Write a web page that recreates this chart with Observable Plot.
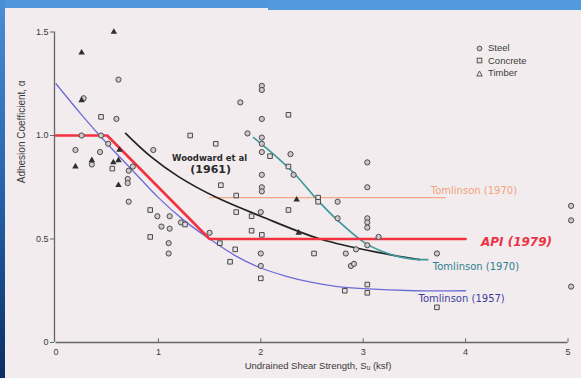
<!DOCTYPE html>
<html><head><meta charset="utf-8">
<script src="https://cdn.jsdelivr.net/npm/d3@7"></script>
<script src="https://cdn.jsdelivr.net/npm/@observablehq/plot@0.6"></script>
<style>
html,body{margin:0;padding:0;background:#f2ecee;}
#wrap{position:relative;width:581px;height:378px;overflow:hidden;background:#f2ecee;}
#chart svg{display:block;position:absolute;left:0;top:0;}
.bar{position:absolute;}
#topA{left:0;top:0;width:268px;height:8px;background:#4f96dc;}
#topB{left:268px;top:0;width:313px;height:10px;background:#5299de;}
#left{left:0;top:0;width:5px;height:378px;background:linear-gradient(#4a8fd8,#1f5aa0 60%,#0b2d63);}
#legend{position:absolute;left:476px;top:42px;font:9.5px "Liberation Sans",Arial,sans-serif;color:#3c3c3c;line-height:12.5px;}
#legend div{display:flex;align-items:center;}
#legend svg{margin-right:5px;}
</style></head><body>
<div id="wrap"><div id="chart"></div>
<div class="bar" id="topA"></div><div class="bar" id="topB"></div><div class="bar" id="left"></div>
<div id="legend"></div>
</div>
<script>
// ---- data ----
const steel = [
 [0.61,1.27],[0.27,1.18],[0.59,1.08],[0.25,1.00],[0.44,1.00],[0.51,0.96],[0.19,0.93],[0.43,0.92],
 [0.95,0.93],[0.35,0.86],[0.71,0.83],[0.75,0.85],[0.70,0.79],[0.70,0.77],[0.71,0.68],
 [0.99,0.61],[1.11,0.61],[1.03,0.56],[1.11,0.55],[1.22,0.58],[1.10,0.48],[1.10,0.43],[1.50,0.53],
 [2.00,0.63],[2.00,0.43],[2.00,0.37],[1.80,1.16],[2.01,1.08],[1.87,1.01],[2.01,0.99],[2.01,0.96],
 [2.01,0.92],[2.01,0.81],[2.01,0.75],[2.01,0.73],[2.01,1.24],[2.01,1.22],[2.29,0.91],[2.32,0.81],
 [2.75,0.68],[2.75,0.60],[3.04,0.87],[3.04,0.75],[3.04,0.60],[3.04,0.58],[3.04,0.555],[3.15,0.51],
 [2.83,0.43],[2.93,0.45],[3.04,0.47],[2.88,0.37],[2.91,0.38],[3.72,0.43],[5.03,0.66],[5.03,0.59],[5.03,0.27]
];
const concrete = [
 [0.44,1.09],[0.55,0.84],[0.92,0.64],[0.92,0.51],[1.26,0.57],[1.60,0.48],[1.76,0.63],[1.91,0.61],
 [1.91,0.54],[2.01,0.52],[1.75,0.45],[1.70,0.39],[2.00,0.31],[1.31,1.00],[1.56,0.96],[1.61,0.76],
 [1.76,0.71],[2.27,1.10],[2.09,0.90],[2.27,0.85],[2.56,0.70],[2.56,0.68],[2.27,0.64],[2.52,0.43],
 [3.72,0.17],[2.82,0.25],[3.04,0.28],[3.04,0.24]
];
const timber = [
 [0.565,1.50],[0.25,1.40],[0.25,1.17],[0.62,0.93],[0.19,0.85],[0.35,0.88],[0.56,0.87],
 [0.61,0.88],[0.61,0.76],[2.35,0.69],[2.37,0.53]
];
const api1979 = [[0,1.0],[0.5,1.0],[1.5,0.5],[4.0,0.5]];
const tomlinson1957 = [[0,1.25],[0.25,1.10],[0.5,0.96],[0.75,0.83],[1.0,0.70],[1.25,0.59],[1.5,0.50],
 [1.75,0.42],[2.0,0.36],[2.25,0.32],[2.5,0.29],[2.75,0.27],[3.0,0.26],[3.5,0.25],[4.0,0.25]];
const woodward1961 = [[0.68,1.01],[0.92,0.90],[1.2,0.80],[1.57,0.70],[2.0,0.61],[2.58,0.50],[3.2,0.43],[3.55,0.40]];
const tomlinson1970curve = [[1.93,0.99],[2.1,0.92],[2.32,0.82],[2.55,0.69],[2.75,0.59],[3.02,0.48],[3.27,0.425],[3.45,0.405],[3.63,0.40]];
const tomlinson1970flat = [[1.5,0.70],[3.8,0.70]];
const xTicks = [0,1,2,3,4,5];
const xTickLabels = ["0","1","2","3","4","5"];
const yTicks = [0,0.5,1.0,1.5];
const yTickLabels = ["0","0.5","1.0","1.5"];
const xTitle = "Undrained Shear Strength, S\u1D64 (ksf)";
const yTitle = "Adhesion Coefficient, \u03B1";
const legendNames = ["Steel","Concrete","Timber"];
const curveLabels = [
 {x:1.50, y:0.889, text:"Woodward et al", color:"#2a2a2a", size:8.5, weight:"bold", style:"normal", anchor:"middle"},
 {x:1.51, y:0.836, text:"(1961)", color:"#2a2a2a", size:11, weight:"bold", style:"normal", anchor:"middle"},
 {x:3.66, y:0.734, text:"Tomlinson (1970)", color:"#f0a47c", size:10, weight:"normal", style:"normal", anchor:"start"},
 {x:4.15, y:0.483, text:"API (1979)", color:"#ea3346", size:12, weight:"bold", style:"italic", anchor:"start"},
 {x:3.68, y:0.367, text:"Tomlinson (1970)", color:"#2f7f8f", size:10, weight:"normal", style:"normal", anchor:"start"},
 {x:3.54, y:0.213, text:"Tomlinson (1957)", color:"#3d3d9e", size:10, weight:"normal", style:"normal", anchor:"start"}
];

const xFmt = d => xTickLabels[xTicks.indexOf(d)];
const yFmt = d => yTickLabels[yTicks.indexOf(d)];
const sym = {r:2.6, strokeWidth:1};
const lbl = f => curveLabels.filter(f);

const chart = Plot.plot({
  width:581, height:378,
  marginLeft:55.5, marginRight:13.5, marginTop:31.5, marginBottom:36,
  style:{background:"transparent", fontFamily:"'Liberation Sans', Arial, sans-serif", color:"#3a3a3a"},
  x:{domain:[0,5]},
  y:{domain:[0,1.5]},
  marks:[
    Plot.ruleX([0], {stroke:"#666", strokeWidth:1.3, dx:-1.5}),
    Plot.ruleY([0], {stroke:"#666", strokeWidth:1.3}),
    Plot.ruleX(xTicks.slice(1), {x:d=>d, y1:0, y2:0.018, stroke:"#666", strokeWidth:1}),
    Plot.axisX(xTicks, {tickSize:0, tickPadding:6, tickFormat:xFmt, fontSize:9, label:null, fill:"#3a3a3a"}),
    Plot.axisY(yTicks, {tickSize:4, tickPadding:2, tickFormat:yFmt, fontSize:9, label:null, stroke:"#666", fill:"#3a3a3a", dx:-1.5}),
    Plot.text([xTitle], {text:d=>d, frameAnchor:"bottom", dy:26, dx:6, fontSize:9.5, fill:"#3a3a3a"}),
    Plot.text([yTitle], {text:d=>d, frameAnchor:"left", rotate:-90, dx:-34, dy:-4, fontSize:10, fill:"#3a3a3a"}),
    Plot.line(tomlinson1970flat, {x:d=>d[0], y:d=>d[1], stroke:"#f6a886", strokeWidth:1.2}),
    Plot.line(tomlinson1957, {x:d=>d[0], y:d=>d[1], curve:"catmull-rom", stroke:"#6b6bd6", strokeWidth:1.3}),
    Plot.line(woodward1961, {x:d=>d[0], y:d=>d[1], curve:"catmull-rom", stroke:"#222", strokeWidth:1.7}),
    Plot.line(tomlinson1970curve, {x:d=>d[0], y:d=>d[1], curve:"catmull-rom", stroke:"#3c9a9c", strokeWidth:1.7}),
    Plot.line(api1979, {x:d=>d[0], y:d=>d[1], stroke:"#f2333f", strokeWidth:2.6}),
    Plot.dot(steel, {x:d=>d[0], y:d=>d[1], symbol:"circle", ...sym, stroke:"#4a4a4a", fill:"#cfc8cb"}),
    Plot.dot(concrete, {x:d=>d[0], y:d=>d[1], symbol:"square", ...sym, stroke:"#4a4a4a", fill:"#e6e0e2"}),
    Plot.dot(timber, {x:d=>d[0], y:d=>d[1], symbol:"triangle", r:2.4, fill:"#2e2e2e", stroke:"none"}),
    ...curveLabels.map(c => Plot.text([c], {x:"x", y:"y", text:"text", fill:c.color, fontSize:c.size,
        fontWeight:c.weight, fontStyle:c.style, textAnchor:c.anchor, fontFamily:"'DejaVu Sans', sans-serif"}))
  ]
});
document.getElementById("chart").appendChild(chart);

// legend (HTML, real text)
const shapes = [
  '<svg width="7" height="7"><circle cx="3.5" cy="3.5" r="2.4" fill="#cfc8cb" stroke="#555" stroke-width="1"/></svg>',
  '<svg width="7" height="7"><rect x="1.2" y="1.2" width="4.6" height="4.6" fill="#e6e0e2" stroke="#555" stroke-width="1"/></svg>',
  '<svg width="7" height="7"><path d="M3.5,1 L6.2,6 L0.8,6 Z" fill="none" stroke="#555" stroke-width="1"/></svg>'
];
document.getElementById("legend").innerHTML = legendNames.map((n,i)=>`<div>${shapes[i]}<span>${n}</span></div>`).join("");
</script>
</body></html>
